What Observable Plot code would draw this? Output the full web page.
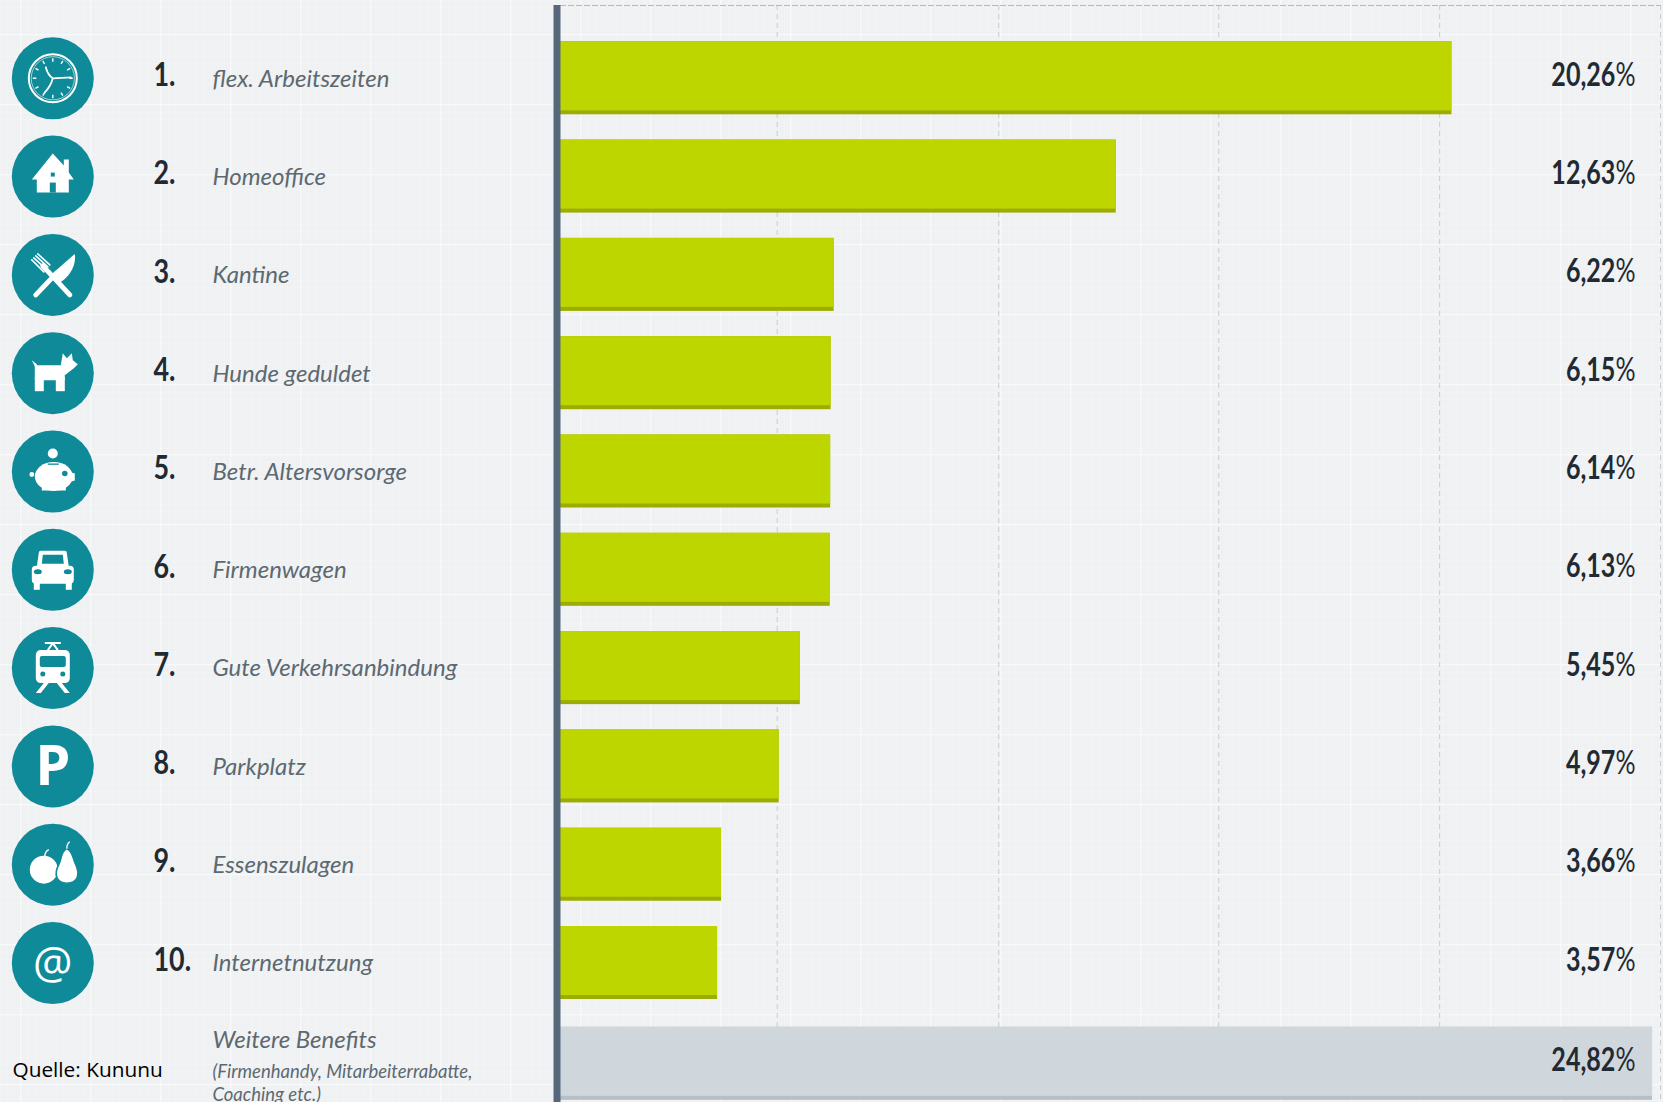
<!DOCTYPE html>
<html lang="de">
<head>
<meta charset="utf-8">
<title>Beliebteste Benefits</title>
<script src="https://cdn.jsdelivr.net/npm/d3@7"></script>
<script src="https://cdn.jsdelivr.net/npm/@observablehq/plot@0.6"></script>
<style>
  html, body { margin: 0; padding: 0; overflow: hidden; }
  body {
    width: 1663px; height: 1102px;
    background-color: #eff1f3;
    background-image:
      linear-gradient(rgba(255,255,255,.55) 1px, transparent 1px),
      linear-gradient(90deg, rgba(255,255,255,.55) 1px, transparent 1px),
      linear-gradient(rgba(255,255,255,.16) 1px, transparent 1px),
      linear-gradient(90deg, rgba(255,255,255,.16) 1px, transparent 1px);
    background-size: 70px 70px, 70px 70px, 7px 7px, 7px 7px;
    background-position: 0 34px, 20px 0, 0 0, 0 0;
  }
  svg { display: block; }
  .value-label .pct { font-weight: 400; }
</style>
</head>
<body>
<script>
// Benefits ranked by how often they are offered, in percent.
const ranks = ["1.", "2.", "3.", "4.", "5.", "6.", "7.", "8.", "9.", "10."];
const benefits = [
  "flex. Arbeitszeiten", "Homeoffice", "Kantine", "Hunde geduldet", "Betr. Altersvorsorge",
  "Firmenwagen", "Gute Verkehrsanbindung", "Parkplatz", "Essenszulagen", "Internetnutzung"
];
const shares = [20.26, 12.63, 6.22, 6.15, 6.14, 6.13, 5.45, 4.97, 3.66, 3.57];
const otherLabel = "Weitere Benefits";
const otherNote = ["(Firmenhandy, Mitarbeiterrabatte,", "Coaching etc.)"];
const otherShare = 24.82;
const gridTicks = [4.925, 9.96, 14.96, 19.98, 25];
const source = "Quelle: Kununu";

// White pictograms, drawn around the centre of each teal disc.
const TEAL = "#0f8a98";
const clockTicks = d3.range(12).map(i =>
  `<line y1="-20" y2="-16.5" stroke="#fff" stroke-width="1.4" transform="rotate(${i * 30})"/>`).join("");
const icons = [
  `<circle r="24" fill="none" stroke="#fff" stroke-width="2"/><circle r="21.6" fill="none" stroke="#fff" stroke-width=".6"/>${clockTicks}
   <path d="M-7,-11 Q-5,-3 0,0 M0,0 L18,-1 M0,0 Q-2,8 -8,14" fill="none" stroke="#fff" stroke-width="1.8" stroke-linecap="round"/>`,
  `<polygon points="0,-23 11,-11 11,-17 16,-17 16,-4 21,3 16,3 16,16 -16,16 -16,3 -21,3"/>
   <rect x="-3" y="6" width="6" height="10" fill="${TEAL}"/><rect x="-2" y="-4" width="4" height="4" fill="${TEAL}"/>`,
  `<g stroke="#fff" stroke-linecap="round" fill="none"><line x1="17" y1="20" x2="-10" y2="-9" stroke-width="5"/>
   <path d="M-21,-15 L-9,-3 M-19,-17 L-7,-6 M-17,-19 L-5,-8 M-15,-21 L-3,-10" stroke-width="1.6"/>
   <line x1="-17" y1="20" x2="4" y2="-2" stroke-width="5"/></g>
   <path d="M-2,0 L22,-21 C24,-8 15,4 6,8 Z"/>`,
  `<rect x="-18" y="-8" width="30" height="15" rx="1"/><rect x="-18" y="4" width="9" height="14"/><rect x="3" y="4" width="9" height="14"/>
   <polygon points="-21,-13 -16,-9 -16,-3"/>
   <polygon points="8,-8 10,-20 14,-15 19,-20 20,-13 25,-9 21,-5 12,2"/>`,
  `<circle cy="-18" r="5"/><ellipse cx="1" cy="5" rx="19" ry="14.5"/>
   <polygon points="15,0 22,2 22,9 15,11"/><circle cx="-21" cy="3" r="2.4"/>
   <rect x="-11" y="13" width="7" height="6"/><rect x="6" y="13" width="7" height="6"/>
   <circle cx="12" cy="2" r="2.8" fill="${TEAL}"/><rect x="-5" y="-8" width="11" height="1.3" fill="${TEAL}"/>`,
  `<path d="M-16,-3 L-14,-17 Q-14,-19 -12,-19 L12,-19 Q14,-19 14,-17 L16,-3 Z"/>
   <rect x="-21" y="-4" width="42" height="18" rx="4"/><rect x="-19" y="12" width="6" height="8"/><rect x="13" y="12" width="6" height="8"/>
   <path d="M-11,-6 L-10,-15 L10,-15 L11,-6 Z" fill="${TEAL}"/>
   <ellipse cx="-15" cy="2" rx="4" ry="2.5" fill="${TEAL}"/><ellipse cx="15" cy="2" rx="4" ry="2.5" fill="${TEAL}"/>`,
  `<rect x="-17" y="-18" width="34" height="33" rx="5"/><rect x="-13" y="-12" width="26" height="11" rx="2" fill="${TEAL}"/>
   <circle cx="-10" cy="6" r="2.5" fill="${TEAL}"/><circle cx="10" cy="6" r="2.5" fill="${TEAL}"/>
   <path d="M-8,-25 L8,-25 M0,-25 L-5,-18 M0,-25 L5,-18" stroke="#fff" stroke-width="2" fill="none"/>
   <path d="M-9,15 L-17,25 L-12,25 L-4,15 Z M9,15 L17,25 L12,25 L4,15 Z"/>`,
  null,
  `<circle cx="-9" cy="5" r="14"/><path d="M-8,-8 Q-8,-13 -4,-15" stroke="#fff" stroke-width="1.4" fill="none"/>
   <path d="M14,-16 C8,-14 9,-6 6,0 C1,9 3,18.5 14,18.5 C26,18.5 27,9 23,0 C20,-6 20,-14 14,-16 Z" stroke="${TEAL}" stroke-width="1.6"/>
   <path d="M14,-16 Q14,-21 17,-23" stroke="#fff" stroke-width="1.4" fill="none"/>`,
  null
];

const iconSrc = art => "data:image/svg+xml," + encodeURIComponent(
  `<svg xmlns="http://www.w3.org/2000/svg" viewBox="-41 -41 82 82" width="82" height="82" fill="#fff">${art}</svg>`);

const rows = benefits.map((benefit, i) => ({
  benefit, rank: ranks[i], share: shares[i], icon: icons[i] && iconSrc(icons[i])
}));
const other = [{benefit: otherLabel, share: otherShare}];
const formatShare = v => v.toFixed(2).replace(".", ",") + "%";

const LEFT = 560;                       // left edge of the plotting frame
const fromFrame = x => x - LEFT;        // column offsets for the list on the left
const OTHER_DY = 2.5;                   // the closing row sits a little lower
const DISC_X = fromFrame(52.3);
const labelFont = {frameAnchor: "left", textAnchor: "start", fontFamily: "Lato", fontStyle: "italic", fill: "#5d6971"};
const figureFont = {fontFamily: "Lato", fontWeight: 700, fill: "#1f2a33"};

const chart = Plot.plot({
  width: 1663,
  height: 1102,
  marginLeft: LEFT,
  marginRight: 3,
  marginTop: 5,
  marginBottom: 0,
  style: {background: "transparent"},
  x: {domain: [0, 25], axis: null},
  y: {type: "band", domain: [...benefits, otherLabel], range: [16, 1122.6], padding: 0.257, round: false, axis: null},
  marks: [
    Plot.ruleX(gridTicks, {stroke: "#c9ced2", strokeWidth: 1, strokeDasharray: "5 4"}),
    Plot.frame({anchor: "top", stroke: "#b4b9bd", strokeDasharray: "5 3"}),

    // bars: a darker lip along the bottom edge, the main colour above it
    Plot.barX(rows, {x: "share", y: "benefit", fill: "#9dad00"}),
    Plot.barX(rows, {x: "share", y: "benefit", fill: "#bed600", insetBottom: 4}),
    Plot.barX(other, {x: "share", y: "benefit", fill: "#b5bfc5", dy: OTHER_DY}),
    Plot.barX(other, {x: "share", y: "benefit", fill: "#cfd7dd", insetBottom: 4, dy: OTHER_DY}),
    Plot.ruleX([0], {stroke: "#55677a", strokeWidth: 7, dx: -3.5}),

    // icon discs
    Plot.dot(rows, {frameAnchor: "left", y: "benefit", r: 41, fill: TEAL, dx: DISC_X}),
    Plot.image(rows.filter(d => d.icon), {frameAnchor: "left", y: "benefit", src: "icon", width: 82, height: 82, dx: DISC_X}),
    Plot.text(rows.filter(d => d.benefit === "Parkplatz"), {
      frameAnchor: "left", textAnchor: "middle", y: "benefit", text: () => "P", dx: DISC_X, dy: 1,
      fill: "#fff", fontFamily: "Open Sans", fontWeight: 700, fontSize: 56
    }),
    Plot.text(rows.filter(d => d.benefit === "Internetnutzung"), {
      frameAnchor: "left", textAnchor: "middle", y: "benefit", text: () => "@", dx: DISC_X, dy: 1,
      fill: "#fff", fontFamily: "Open Sans", fontWeight: 400, fontSize: 44
    }),

    // ranks and names
    Plot.text(rows, {
      frameAnchor: "left", textAnchor: "start", y: "benefit", text: "rank", dx: fromFrame(153), dy: -2.5,
      fontSize: 32, className: "rank-label", ...figureFont
    }),
    Plot.text(rows, {y: "benefit", text: "benefit", dx: fromFrame(212), dy: 0.7, fontSize: 24, ...labelFont}),
    Plot.text(other, {y: "benefit", text: "benefit", dx: fromFrame(212), dy: -21.5, fontSize: 24, ...labelFont}),
    Plot.text(otherNote.slice(0, 1), {y: () => otherLabel, text: d => d, dx: fromFrame(212), dy: 11, fontSize: 18.5, ...labelFont}),
    Plot.text(otherNote.slice(1), {y: () => otherLabel, text: d => d, dx: fromFrame(212), dy: 34, fontSize: 18.5, ...labelFont}),
    Plot.text([source], {
      frameAnchor: "left", textAnchor: "start", y: () => otherLabel, text: d => d, dx: fromFrame(12), dy: 9.5,
      fontFamily: "Open Sans", fontSize: 20.8, fill: "#000"
    }),

    // values, right-aligned at the far side of the frame
    Plot.text(rows, {
      frameAnchor: "right", textAnchor: "end", y: "benefit", text: d => formatShare(d.share), dx: -25, dy: -3,
      fontSize: 33, className: "value-label", ...figureFont
    }),
    Plot.text(other, {
      frameAnchor: "right", textAnchor: "end", y: "benefit", text: d => formatShare(d.share), dx: -25, dy: -1,
      fontSize: 33, className: "value-label", ...figureFont
    })
  ]
});

// The percent sign is set lighter than the figure in front of it.
const SVG_NS = "http://www.w3.org/2000/svg";
chart.querySelectorAll(".value-label text").forEach(node => {
  const label = node.textContent;
  const figure = document.createElementNS(SVG_NS, "tspan");
  figure.textContent = label.slice(0, -1);
  const pct = document.createElementNS(SVG_NS, "tspan");
  pct.setAttribute("class", "pct");
  pct.textContent = "%";
  node.replaceChildren(figure, pct);
});

// Figures are set in a narrow cut: squeeze them horizontally about their anchor.
const condense = (selector, factor) => chart.querySelectorAll(selector).forEach(node => {
  const placed = node.getAttribute("transform") || "";
  node.setAttribute("transform", `${placed} scale(${factor},1)`);
});
condense(".value-label text", 0.76);
condense(".rank-label text", 0.84);

document.body.appendChild(chart);
</script>
</body>
</html>
